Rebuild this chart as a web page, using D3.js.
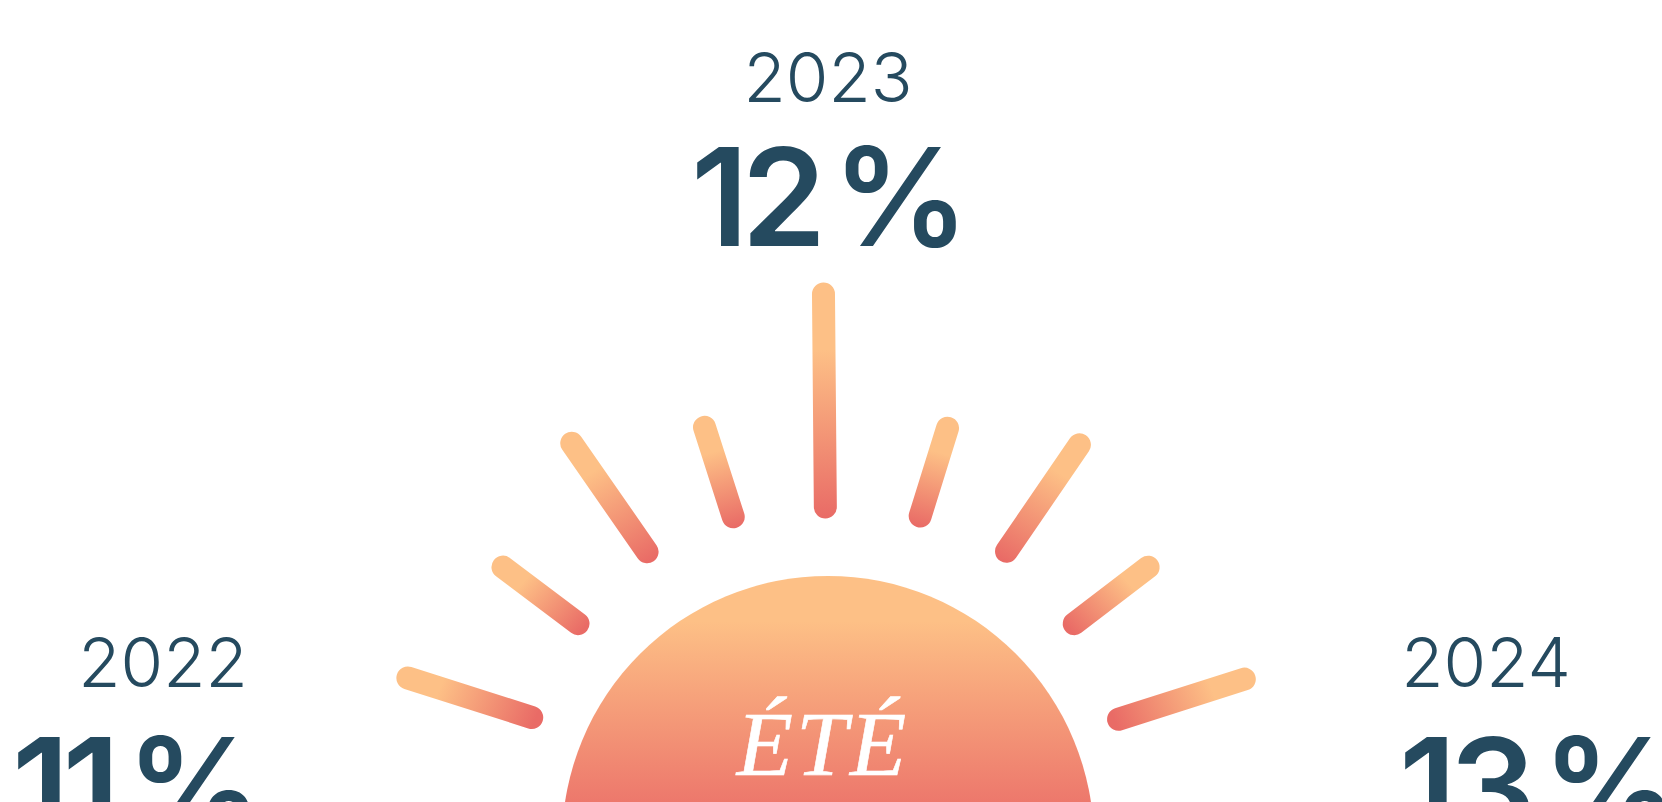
<!DOCTYPE html>
<html>
<head>
<meta charset="utf-8">
<script src="https://cdn.jsdelivr.net/npm/d3@7"></script>
<style>
  html, body { margin: 0; padding: 0; background: #fff; overflow: hidden; }
  svg { display: block; }
</style>
</head>
<body>
<div id="chart"></div>
<script>
// --------------- Data ---------------
const years = ["2022", "2023", "2024"];
const shares = [11, 12, 13];
const season = "ÉTÉ";
const rayAngles = [-72.3, -53, -34.8, -17.8, -0.5, 17.3, 34.4, 52.6, 72.3];
const rayInner = [311, 313, 317, 310, 305, 310, 316, 310, 305];
const rayOuter = [441, 407, 449, 404, 518, 402, 445, 403, 437];

// --------------- Constants ---------------
const WIDTH = 1662;
const HEIGHT = 802;
const INK = "#254a5f";
const SUN_LIGHT = "#fdc086";
const SUN_DARK = "#e96b66";
const RAY_CENTER = [828, 812];

const yearX = d3.scaleOrdinal(years, [163, 828, 1486]);
const yearY = d3.scaleOrdinal(years, [687, 102, 687]);
const valueX = d3.scaleOrdinal(years, [12, 691, 1399]);
const valueY = d3.scaleOrdinal(years, [836, 246, 836]);
const radius = d3.scaleLinear().domain([0, 518]).range([0, 518]);

const svg = d3
  .select("#chart")
  .append("svg")
  .attr("width", WIDTH)
  .attr("height", HEIGHT)
  .attr("viewBox", `0 0 ${WIDTH} ${HEIGHT}`);

const defs = svg.append("defs");

function addGradient(id, [x1, y1], [x2, y2], stops) {
  const grad = defs
    .append("linearGradient")
    .attr("id", id)
    .attr("gradientUnits", "userSpaceOnUse")
    .attr("x1", x1)
    .attr("x2", x2)
    .attr("y1", y1)
    .attr("y2", y2);
  stops.forEach(([offset, color]) =>
    grad.append("stop").attr("offset", offset).attr("stop-color", color)
  );
}

// --------------- Sun ---------------
addGradient("sun-grad", [0, 576], [0, 802], [
  [0, SUN_LIGHT],
  [0.2, SUN_LIGHT],
  [1, "#ed786c"],
]);

svg
  .append("circle")
  .attr("cx", 828)
  .attr("cy", 842)
  .attr("r", 266)
  .attr("fill", "url(#sun-grad)");

// --------------- Rays ---------------
const rays = rayAngles.map((angle, i) => {
  const a = (angle * Math.PI) / 180;
  const [ox, oy] = d3.pointRadial(a, radius(rayOuter[i]));
  const [ix, iy] = d3.pointRadial(a, radius(rayInner[i]));
  return {
    id: `ray-grad-${i}`,
    x1: RAY_CENTER[0] + ox,
    y1: RAY_CENTER[1] + oy,
    x2: RAY_CENTER[0] + ix,
    y2: RAY_CENTER[1] + iy,
  };
});

rays.forEach((d) => {
  addGradient(d.id, [d.x1, d.y1], [d.x2, d.y2 + 11], [
    [0, SUN_LIGHT],
    [0.25, SUN_LIGHT],
    [1, SUN_DARK],
  ]);
});

svg
  .append("g")
  .attr("data-container", "rays")
  .selectAll("path")
  .data(rays)
  .enter()
  .append("path")
  .attr("d", (d) => d3.line()([[d.x1, d.y1], [d.x2, d.y2]]))
  .attr("fill", "none")
  .attr("stroke", (d) => `url(#${d.id})`)
  .attr("stroke-width", 23)
  .attr("stroke-linecap", "round");

// --------------- Labels ---------------
svg
  .append("text")
  .attr("x", 823)
  .attr("y", 775)
  .attr("text-anchor", "middle")
  .attr("font-family", "'Liberation Serif', serif")
  .attr("font-style", "italic")
  .attr("font-size", 92)
  .attr("letter-spacing", 3)
  .attr("fill", "#fff")
  .attr("stroke", "#fff")
  .attr("stroke-width", 0.6)
  .text(season);

const labels = svg.append("g").attr("data-container", "labels");

labels
  .selectAll("text.year")
  .data(years)
  .enter()
  .append("text")
  .attr("class", "year")
  .attr("x", (d) => yearX(d))
  .attr("y", (d) => yearY(d))
  .attr("text-anchor", "middle")
  .attr("font-family", "Inter, sans-serif")
  .attr("font-weight", 350)
  .attr("font-size", 69)
  .attr("fill", INK)
  .text((d) => d);

labels
  .selectAll("text.value")
  .data(shares)
  .enter()
  .append("text")
  .attr("class", "value")
  .attr("x", (d, i) => valueX(years[i]))
  .attr("y", (d, i) => valueY(years[i]))
  .attr("font-family", "Inter, sans-serif")
  .attr("font-weight", 600)
  .attr("font-size", 136)
  .attr("letter-spacing", -7)
  .attr("word-spacing", -14)
  .attr("fill", INK)
  .text((d) => `${d} %`);
</script>
</body>
</html>
